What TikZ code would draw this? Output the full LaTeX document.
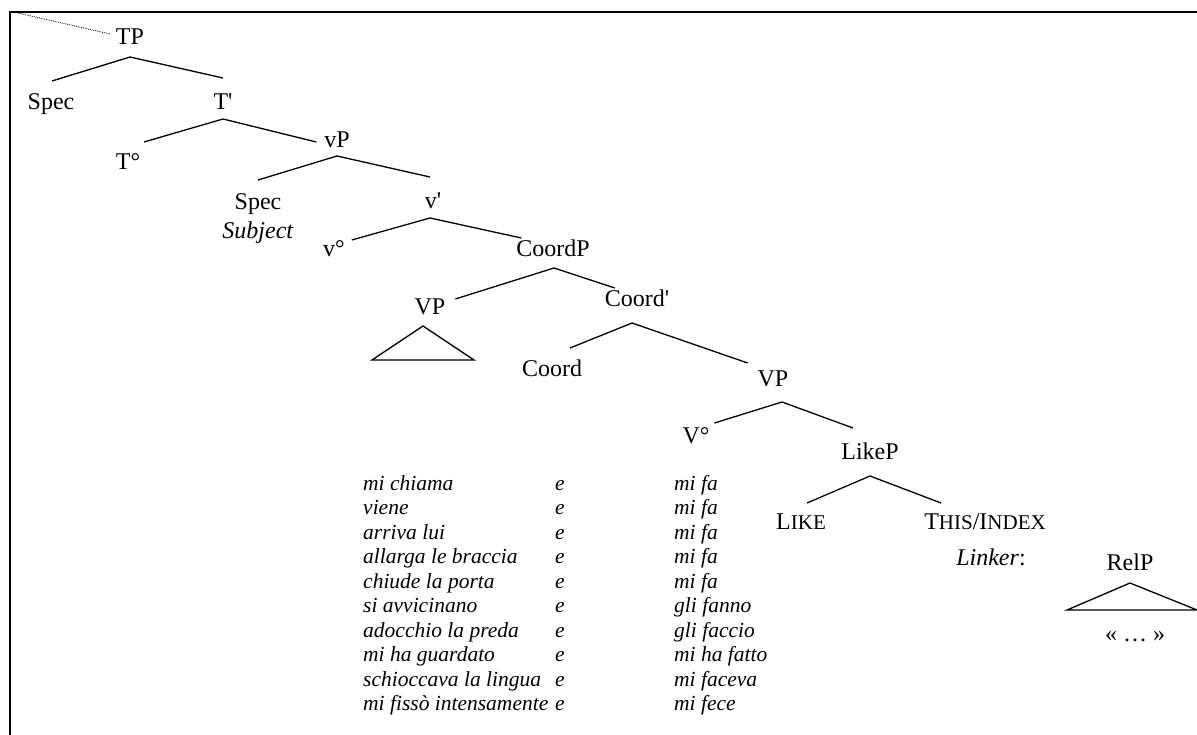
\documentclass[tikz,border=0pt]{standalone}
\usepackage{fontspec}
\setmainfont{Liberation Serif}[Ligatures=TeXOff]
\newcommand{\fakesc}[1]{{\fontsize{21}{24}\selectfont #1}}

\begin{document}
\begin{tikzpicture}[x=1pt,y=-1pt,
    lab/.style={inner sep=0pt,outer sep=0pt,text height=16pt,text depth=0pt,font=\fontsize{24}{28}\selectfont},
    row/.style={inner sep=0pt,anchor=base west,font=\fontsize{21.5}{24.5}\selectfont\itshape},
    br/.style={line width=1.3pt}]
    \useasboundingbox (0,0) rectangle (1197,735);
    \draw[line width=2.4pt] (1210,12) -| (10,745);
    \coordinate (top) at (18,13);
    \node[lab] (tp) at (130,37) {TP};
    \node[lab] (spec1) at (51,102) {Spec};
    \node[lab] (tbar) at (223,102) {T'};
    \node[lab] (t0) at (128,162) {T°};
    \node[lab] (vp) at (337,140) {vP};
    \node[lab] (spec2) at (258,202) {Spec};
    \node[lab] (subj) at (258,231) {\textit{Subject}};
    \node[lab] (vbar) at (433,201) {v'};
    \node[lab] (v0) at (334,249) {v°};
    \node[lab] (coordp) at (553,249) {CoordP};
    \node[lab] (vp1) at (430,307) {VP};
    \node[lab] (coordbar) at (637,299) {Coord'};
    \node[lab] (coord) at (552,368) {Coord};
    \node[lab] (vp2) at (773,378) {VP};
    \node[lab] (V0) at (696,435) {V°};
    \node[lab] (likep) at (870,451) {LikeP};
    \node[lab] (like) at (801,521) {L\fakesc{IKE}};
    \node[lab] (this) at (985,521) {T\fakesc{HIS}/I\fakesc{NDEX}};
    \node[lab] (linker) at (991,557) {\textit{Linker}:};
    \node[lab] (relp) at (1130,562) {RelP};
    \node[lab] (quote) at (1135,633) {« … »};
    \draw[densely dotted,line width=0.8pt] (top) -- ([xshift=-6pt,yshift=3pt]tp.west);
    \draw[br] ([xshift=1pt,yshift=13pt]spec1.north) -- ([yshift=-12pt]tp.south) -- ([yshift=16pt]tbar.north);
    \draw[br] ([xshift=16pt,yshift=12pt]t0.north) -- ([yshift=-9pt]tbar.south) -- ([xshift=-8pt,yshift=-2pt]vp.west);
    \draw[br] ([yshift=14pt]spec2.north) -- ([yshift=-8pt]vp.south) -- ([xshift=-3pt,yshift=16pt]vbar.north);
    \draw[br] ([xshift=7pt,yshift=1pt]v0.north east) -- ([xshift=-3pt,yshift=-9pt]vbar.south) -- ([xshift=5pt,yshift=3pt]coordp.north west);
    \draw[br] ([xshift=10pt]vp1.north east) -- ([xshift=1pt,yshift=-11pt]coordp.south) -- ([xshift=10pt,yshift=3pt]coordbar.north west);
    \draw[br] ([xshift=-7pt,yshift=-11pt]vp1.south) -- ++(-51,34) -- ++(102,0) -- cycle;
    \draw[br] ([xshift=18pt,yshift=12pt]coord.north) -- ([xshift=-5pt,yshift=-16pt]coordbar.south) -- ([xshift=-10pt,yshift=7pt]vp2.north west);
    \draw[br] ([xshift=5pt,yshift=4pt]V0.north east) -- ([xshift=9pt,yshift=-16pt]vp2.south) -- ([xshift=-17pt,yshift=15pt]likep.north);
    \draw[br] ([xshift=6pt,yshift=10pt]like.north) -- ([yshift=-17pt]likep.south) -- ([xshift=-44pt,yshift=10pt]this.north);
    \draw[br] ([yshift=-13pt]relp.south) -- ++(-63,27) -- ++(130,0) -- cycle;
    \foreach \a/\b [count=\i from 0] in {mi chiama/mi fa,viene/mi fa,arriva lui/mi fa,allarga le braccia/mi fa,chiude la porta/mi fa,si avvicinano/gli fanno,adocchio la preda/gli faccio,mi ha guardato/mi ha fatto,schioccava la lingua/mi faceva,mi fissò intensamente/mi fece}{
        \node[row] (l\i) at (363,{490+24.5*\i}) {\a};
        \node[row] (e\i) at (555,{490+24.5*\i}) {e};
        \node[row] (r\i) at (674,{490+24.5*\i}) {\b};
    }
\end{tikzpicture}
\end{document}
